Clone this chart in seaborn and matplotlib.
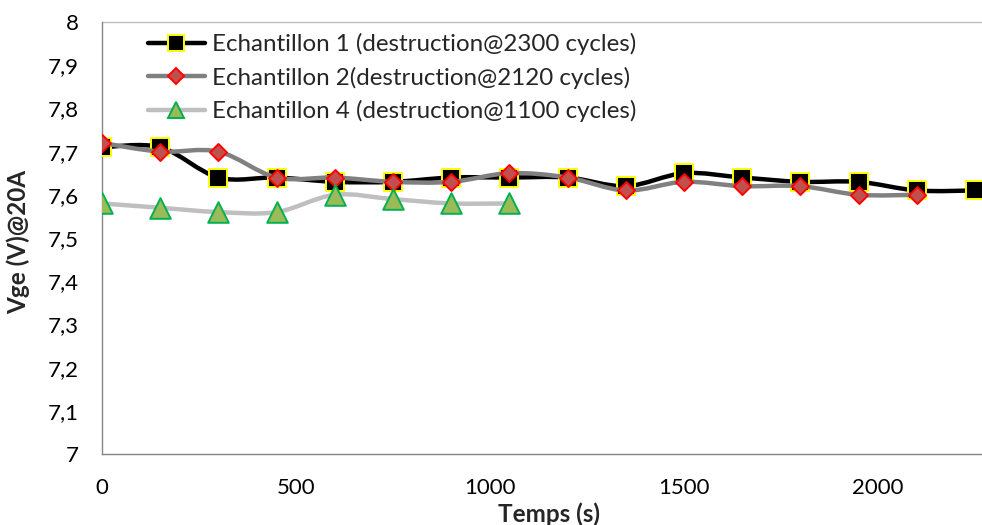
import numpy as np
import pandas as pd
import matplotlib
matplotlib.use("Agg")
import matplotlib.pyplot as plt
import seaborn as sns
from matplotlib.path import Path
from matplotlib.patches import PathPatch
from matplotlib.lines import Line2D
from matplotlib.ticker import FuncFormatter

# Time (s) and Vge measurements for each sample
temps_1 = [0, 150, 300, 450, 600, 750, 900, 1050, 1200, 1350, 1500, 1650, 1800, 1950, 2100, 2250]
vge_1 = [7.71, 7.71, 7.64, 7.64, 7.63, 7.63, 7.64, 7.64, 7.64, 7.62, 7.65, 7.64, 7.63, 7.63, 7.61, 7.61]

temps_2 = [0, 150, 300, 450, 600, 750, 900, 1050, 1200, 1350, 1500, 1650, 1800, 1950, 2100]
vge_2 = [7.72, 7.70, 7.70, 7.64, 7.64, 7.63, 7.63, 7.65, 7.64, 7.61, 7.63, 7.62, 7.62, 7.60, 7.60]

temps_4 = [0, 150, 300, 450, 600, 750, 900, 1050]
vge_4 = [7.58, 7.57, 7.56, 7.56, 7.60, 7.59, 7.58, 7.58]

labels = [
    "Echantillon 1 (destruction@2300 cycles)",
    "Echantillon 2(destruction@2120 cycles)",
    "Echantillon 4 (destruction@1100 cycles)",
]

x_ticks = [0, 500, 1000, 1500, 2000]
y_ticks = [7.0, 7.1, 7.2, 7.3, 7.4, 7.5, 7.6, 7.7, 7.8, 7.9, 8.0]

sns.set_theme(style="white")
plt.rcParams["font.family"] = ["Lato", "DejaVu Sans"]

W, H = 982, 525
fig = plt.figure(figsize=(W / 100, H / 100), dpi=100)
ax = fig.add_axes([102 / W, 1 - 454 / H, (W - 102) / W, (454 - 22) / H])


def smooth_path(xs, ys):
    """Bezier path through the points, with tangents from neighbouring points."""
    p = np.column_stack([xs, ys]).astype(float)
    n = len(p)
    verts = [p[0]]
    codes = [Path.MOVETO]
    for i in range(n - 1):
        prev_p = p[i - 1] if i > 0 else p[i]
        next_p = p[i + 2] if i + 2 < n else p[i + 1]
        c1 = p[i] + (p[i + 1] - prev_p) / 6.0
        c2 = p[i + 1] - (next_p - p[i]) / 6.0
        verts += [c1, c2, p[i + 1]]
        codes += [Path.CURVE4] * 3
    return Path(verts, codes)


series = [
    dict(x=temps_1, y=vge_1, line="#000000", marker="s", size=170, face="#000000",
         edge="#FFFF00", ms=11),
    dict(x=temps_2, y=vge_2, line="#808080", marker="D", size=75, face="#C0504D",
         edge="#FF0000", ms=8),
    dict(x=temps_4, y=vge_4, line="#BFBFBF", marker="^", size=220, face="#9BBB59",
         edge="#00B050", ms=12),
]

handles = []
z = 2
for s, lab in zip(series, labels):
    ax.add_patch(PathPatch(smooth_path(s["x"], s["y"]), fill=False, edgecolor=s["line"],
                           linewidth=3.2, capstyle="round", joinstyle="round", zorder=z))
    df = pd.DataFrame({"temps": s["x"], "vge": s["y"]})
    sns.scatterplot(data=df, x="temps", y="vge", ax=ax, marker=s["marker"], s=s["size"],
                    color=s["face"], edgecolor=s["edge"], linewidth=1.4, zorder=z + 1,
                    legend=False)
    handles.append(Line2D([], [], color=s["line"], linewidth=3.2, marker=s["marker"],
                          markersize=s["ms"], markerfacecolor=s["face"],
                          markeredgecolor=s["edge"], markeredgewidth=1.4,
                          solid_capstyle="round"))
    z += 2

ax.set_xlim(0, 2268)
ax.set_ylim(7.0, 8.0)
ax.set_xticks(x_ticks)
ax.set_yticks(y_ticks)
ax.yaxis.set_major_formatter(FuncFormatter(lambda v, _: f"{v:g}".replace(".", ",")))
ax.set_xlabel("")
ax.set_ylabel("")

for side in ["top", "right"]:
    ax.spines[side].set_visible(False)
for side in ["left", "bottom"]:
    ax.spines[side].set_color("#868686")
    ax.spines[side].set_linewidth(1.0)
ax.axhline(8.0, color="#BFBFBF", linewidth=1.0, zorder=1, clip_on=False)

ax.tick_params(axis="both", which="major", direction="out", length=5, width=1.0,
               color="#868686", labelsize=16, labelcolor="#000000")
ax.tick_params(axis="y", pad=12)
ax.tick_params(axis="x", pad=12)

fig.text(18 / W, 1 - 242 / H, "Vge (V)@20A", rotation=90, ha="center", va="center",
         fontsize=17.5, fontweight="bold")
fig.text(549 / W, 1 - 514 / H, "Temps (s)", ha="center", va="center",
         fontsize=17.5, fontweight="bold")

ax.legend(handles, labels, loc="upper left", bbox_to_anchor=(148 / W, 1 - 33 / H),
          bbox_transform=fig.transFigure, frameon=False, fontsize=17.4,
          handlelength=2.35, handletextpad=0.3, labelspacing=0.48,
          borderaxespad=0.0, borderpad=0.0)

fig.savefig("out.png", dpi=100)
